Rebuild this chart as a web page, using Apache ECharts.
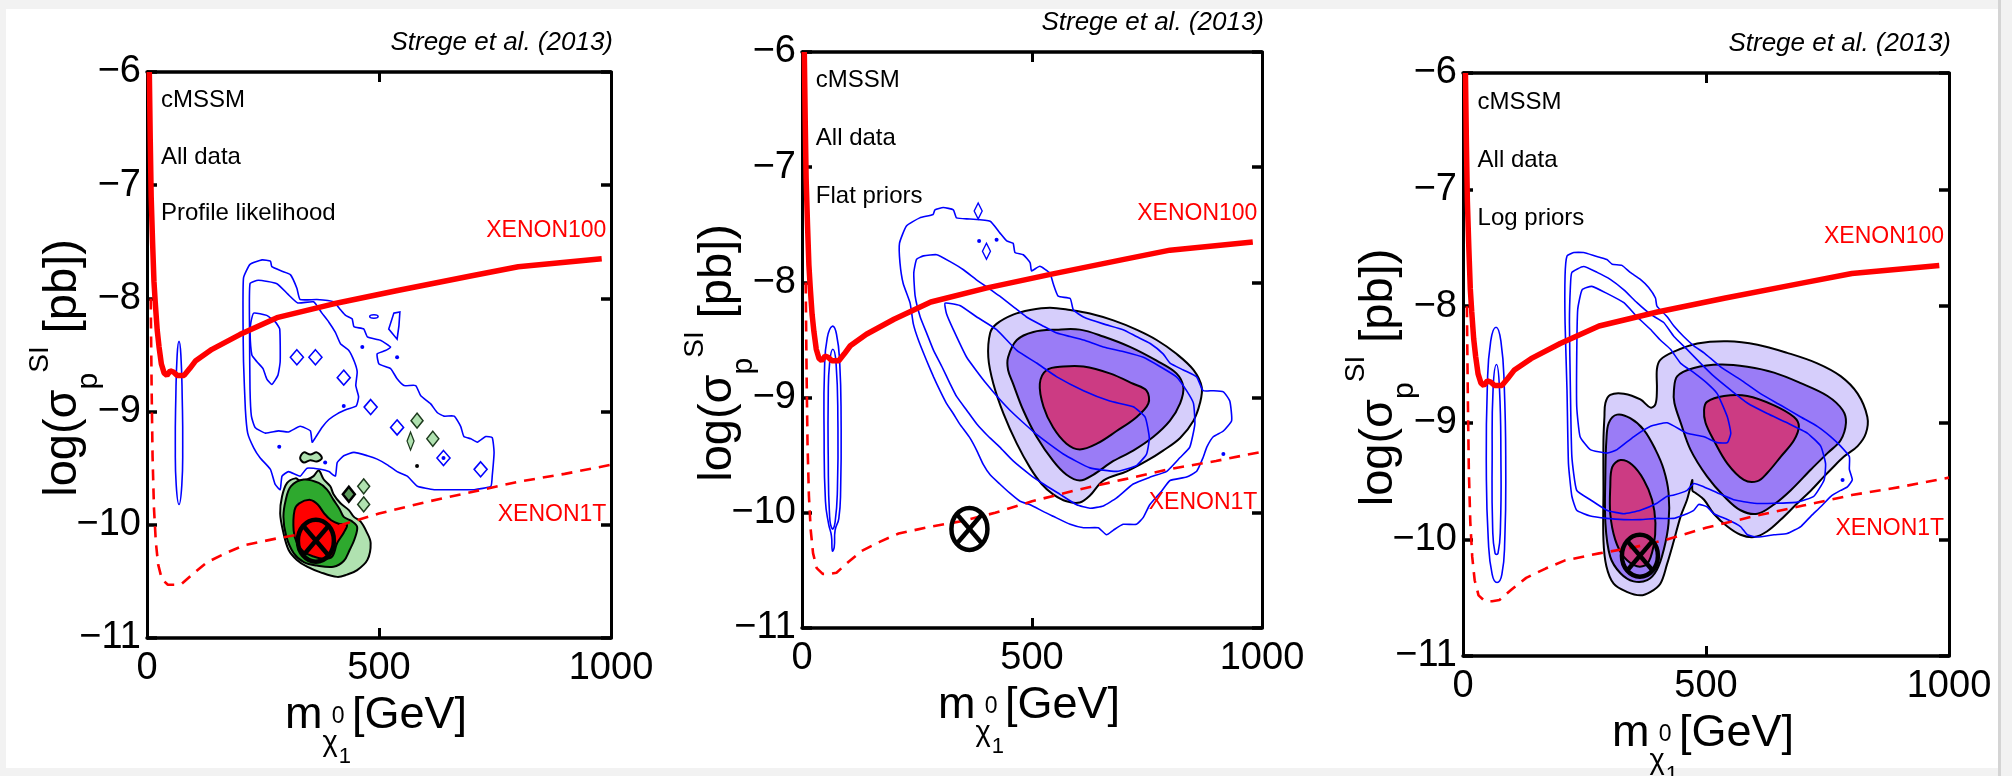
<!DOCTYPE html>
<html>
<head>
<meta charset="utf-8">
<script src="https://cdn.jsdelivr.net/npm/echarts@6/dist/echarts.min.js"></script>
<style>
  html, body { margin: 0; padding: 0; background: #f2f2f2; overflow: hidden; }
  #chart { width: 2012px; height: 776px; }
</style>
</head>
<body>
<div id="chart"></div>
<script>
// ---------------- values (GeV, log10 pb) ----------------
const panelCaptions = ['Profile likelihood', 'Flat priors', 'Log priors'];
const infoLines = ['cMSSM', 'All data'];
const creditText = 'Strege et al. (2013)';
const limitNames = ['XENON100', 'XENON1T'];

// direct-detection limits, shared by all three panels
const xenon100Limit = [[5,-6.0],[7,-6.6],[9,-7.1],[12,-7.5],[15,-7.85],[18,-8.05],[22,-8.28],[26,-8.43],[31,-8.58],[37,-8.66],[43,-8.68],[50,-8.64],[57,-8.65],[65,-8.68],[80,-8.68],[92,-8.62],[105,-8.55],[140,-8.45],[200,-8.32],[280,-8.17],[400,-8.05],[540,-7.93],[700,-7.8],[800,-7.72],[980,-7.65]];
const xenon1tReach = [[8,-8.0],[10,-8.8],[12,-9.4],[15,-9.85],[19,-10.15],[24,-10.35],[32,-10.48],[45,-10.53],[60,-10.53],[75,-10.52],[100,-10.43],[130,-10.33],[170,-10.25],[210,-10.18],[280,-10.12],[350,-10.07],[420,-10.0],[500,-9.9],[600,-9.8],[700,-9.71],[800,-9.62],[900,-9.55],[1000,-9.47]];
const bestFit = [[364, -10.14]];

// ---- panel 1: profile likelihood ----
const p1BlueOuter = [[208,-7.82],[222,-7.70],[248,-7.66],[266,-7.67],[269,-7.72],[291,-7.76],[309,-7.79],[323,-7.91],[330,-8.01],[366,-8.01],[402,-8.03],[417,-8.10],[428,-8.15],[442,-8.18],[446,-8.25],[467,-8.27],[475,-8.34],[503,-8.37],[525,-8.43],[514,-8.46],[496,-8.49],[500,-8.58],[525,-8.62],[539,-8.71],[554,-8.77],[579,-8.77],[590,-8.86],[611,-8.93],[626,-9.01],[640,-9.04],[662,-9.04],[676,-9.13],[683,-9.22],[698,-9.24],[712,-9.27],[730,-9.22],[744,-9.23],[748,-9.36],[744,-9.57],[741,-9.66],[705,-9.69],[662,-9.69],[619,-9.69],[583,-9.66],[561,-9.57],[539,-9.53],[518,-9.47],[496,-9.42],[475,-9.39],[446,-9.36],[424,-9.39],[410,-9.45],[406,-9.57],[392,-9.53],[374,-9.51],[345,-9.50],[330,-9.57],[305,-9.53],[291,-9.57],[287,-9.69],[276,-9.64],[266,-9.51],[244,-9.41],[230,-9.32],[217,-9.19],[212,-8.98],[208,-8.56],[207,-8.21]];
const p1BlueInner = [[222,-7.87],[240,-7.84],[280,-7.87],[303,-7.96],[325,-8.04],[359,-8.03],[377,-8.13],[392,-8.21],[406,-8.30],[417,-8.40],[435,-8.46],[447,-8.56],[453,-8.65],[450,-8.77],[456,-8.87],[451,-8.95],[431,-8.98],[410,-9.02],[392,-9.07],[377,-9.14],[363,-9.23],[356,-9.27],[352,-9.17],[330,-9.13],[305,-9.18],[284,-9.17],[255,-9.19],[233,-9.14],[225,-9.04],[222,-8.80],[221,-8.27]];
const p1BlueLobe = [[224,-8.21],[230,-8.13],[258,-8.15],[277,-8.21],[286,-8.27],[287,-8.56],[282,-8.68],[269,-8.76],[258,-8.71],[250,-8.62],[237,-8.56],[226,-8.50],[222,-8.30]];
const p1BlueStrip = [[69,-8.38],[73,-8.5],[76,-8.9],[77,-9.3],[75,-9.65],[69,-9.82],[63,-9.65],[61,-9.3],[62,-8.9],[65,-8.5]];
const p1BlueTriangle = [[532,-8.13],[545,-8.12],[543,-8.24],[539,-8.36],[521,-8.27]];
const p1BlueSpeck = [[480,-8.16],[489,-8.145],[498,-8.16],[489,-8.175]];
const p1BlueDiamonds = [[323,-8.52],[363,-8.52],[424,-8.70],[482,-8.96],[539,-9.14],[639,-9.41],[719,-9.51]];
const p1BlueDots = [[464,-8.43],[539,-8.52],[424,-8.95],[285,-9.31],[639,-9.41],[384,-9.45]];
const p1GreenOuter = [[302,-9.63],[291,-9.75],[287,-9.90],[294,-10.07],[305,-10.22],[323,-10.31],[345,-10.37],[374,-10.42],[410,-10.46],[431,-10.44],[453,-10.40],[475,-10.31],[482,-10.16],[473,-10.06],[460,-9.97],[446,-9.93],[435,-9.87],[417,-9.81],[402,-9.73],[395,-9.66],[381,-9.60],[370,-9.52],[359,-9.57],[345,-9.60],[330,-9.61],[320,-9.59]];
const p1GreenInner = [[310,-9.66],[299,-9.78],[294,-9.93],[300,-10.10],[316,-10.25],[338,-10.33],[366,-10.36],[402,-10.37],[424,-10.32],[437,-10.22],[447,-10.13],[453,-10.02],[442,-9.97],[424,-9.93],[415,-9.86],[402,-9.78],[388,-9.69],[370,-9.63],[338,-9.60]];
const p1RedCore = [[318,-9.87],[328,-9.81],[352,-9.78],[368,-9.82],[382,-9.90],[397,-9.96],[413,-9.99],[431,-10.00],[424,-10.07],[410,-10.16],[399,-10.28],[381,-10.30],[359,-10.28],[338,-10.24],[323,-10.16],[316,-10.05]];
const p1GreenIsle = [[330,-9.41],[338,-9.36],[352,-9.38],[366,-9.36],[377,-9.41],[366,-9.44],[352,-9.43],[338,-9.45]];
const p1GreenDiamonds = [[582,-9.08],[616,-9.24],[467,-9.66],[467,-9.82]];
const p1DarkDiamonds = [[435,-9.73]];
const p1GreenSliver = [[568,-9.26]];
const p1BlackDots = [[582,-9.48]];

// ---- panel 2: flat priors ----
const p2BlueOuter = [[289,-7.37],[307,-7.35],[329,-7.37],[336,-7.44],[365,-7.45],[409,-7.47],[430,-7.57],[445,-7.64],[459,-7.66],[463,-7.74],[481,-7.76],[496,-7.83],[499,-7.90],[517,-7.86],[539,-7.92],[546,-8.01],[557,-8.12],[583,-8.14],[590,-8.24],[612,-8.30],[655,-8.36],[698,-8.41],[727,-8.47],[757,-8.53],[785,-8.62],[800,-8.70],[829,-8.76],[858,-8.82],[872,-8.94],[894,-8.94],[916,-8.95],[930,-9.03],[934,-9.20],[916,-9.29],[894,-9.34],[880,-9.43],[872,-9.52],[858,-9.64],[836,-9.69],[800,-9.72],[782,-9.81],[756,-9.93],[742,-10.04],[727,-10.10],[698,-10.10],[677,-10.15],[662,-10.19],[644,-10.13],[612,-10.13],[583,-10.10],[546,-10.03],[525,-9.99],[496,-9.93],[474,-9.90],[452,-9.83],[430,-9.75],[409,-9.67],[394,-9.58],[380,-9.46],[365,-9.35],[343,-9.23],[329,-9.14],[314,-9.05],[300,-8.94],[286,-8.82],[271,-8.68],[253,-8.50],[242,-8.36],[235,-8.18],[220,-8.01],[213,-7.83],[212,-7.66],[227,-7.51],[256,-7.44],[285,-7.41]];
const p2BlueMiddle = [[249,-7.80],[264,-7.77],[293,-7.76],[322,-7.82],[351,-7.89],[380,-7.98],[409,-8.06],[430,-8.12],[459,-8.21],[488,-8.30],[525,-8.38],[554,-8.44],[583,-8.47],[612,-8.50],[655,-8.56],[698,-8.60],[742,-8.65],[778,-8.73],[814,-8.82],[836,-8.94],[851,-9.05],[854,-9.23],[843,-9.43],[822,-9.52],[793,-9.64],[757,-9.69],[720,-9.75],[684,-9.87],[655,-9.94],[626,-9.96],[597,-9.93],[561,-9.84],[525,-9.75],[496,-9.67],[459,-9.55],[430,-9.43],[401,-9.32],[380,-9.23],[358,-9.11],[336,-8.99],[322,-8.88],[304,-8.73],[286,-8.59],[271,-8.44],[257,-8.30],[246,-8.12],[243,-7.92]];
const p2BlueInner = [[311,-8.18],[343,-8.20],[380,-8.30],[423,-8.41],[467,-8.59],[510,-8.70],[554,-8.82],[612,-8.94],[669,-9.03],[720,-9.08],[746,-9.17],[755,-9.35],[749,-9.49],[727,-9.59],[684,-9.64],[626,-9.61],[568,-9.49],[510,-9.32],[452,-9.11],[401,-8.88],[358,-8.65],[329,-8.41],[314,-8.27]];
const p2StripOuter = [[66,-8.38],[75,-8.45],[82,-8.7],[85,-9.2],[84,-9.8],[80,-10.05],[72,-10.15],[70,-10.3],[66,-10.33],[64,-10.2],[58,-10.1],[51,-9.9],[48,-9.3],[49,-8.75],[55,-8.48]];
const p2StripInner = [[67,-8.58],[74,-8.7],[78,-9.2],[77,-9.8],[72,-10.08],[66,-10.14],[60,-10.03],[57,-9.5],[57,-9.0],[60,-8.7]];
const p2BlueSpecks = [[383,-7.38],[401,-7.73]];
const p2BlueDots = [[385,-7.64],[423,-7.63],[916,-9.49]];
const p2Purple2 = [[409,-8.44],[423,-8.36],[459,-8.28],[496,-8.24],[539,-8.22],[583,-8.24],[626,-8.27],[677,-8.33],[727,-8.41],[771,-8.50],[814,-8.62],[851,-8.76],[869,-8.91],[865,-9.05],[851,-9.20],[822,-9.35],[785,-9.46],[749,-9.55],[706,-9.64],[655,-9.72],[626,-9.85],[604,-9.91],[575,-9.90],[546,-9.84],[521,-9.75],[496,-9.61],[467,-9.40],[438,-9.14],[416,-8.88],[405,-8.65]];
const p2Purple1 = [[448,-8.65],[467,-8.50],[503,-8.43],[554,-8.41],[604,-8.41],[655,-8.47],[713,-8.56],[771,-8.68],[814,-8.79],[829,-8.91],[822,-9.05],[800,-9.20],[764,-9.34],[720,-9.46],[677,-9.55],[633,-9.67],[604,-9.72],[575,-9.67],[546,-9.55],[510,-9.34],[481,-9.11],[459,-8.88],[448,-8.76]];
const p2Core = [[517,-8.88],[532,-8.76],[568,-8.73],[612,-8.73],[669,-8.79],[720,-8.88],[749,-8.94],[753,-9.05],[727,-9.17],[684,-9.29],[641,-9.40],[604,-9.45],[575,-9.40],[546,-9.26],[525,-9.08]];

// ---- panel 3: log priors ----
const p3BlueOuter = [[214,-7.57],[228,-7.54],[248,-7.54],[272,-7.57],[296,-7.60],[307,-7.64],[327,-7.65],[344,-7.71],[365,-7.77],[382,-7.84],[396,-7.93],[399,-8.00],[420,-8.09],[434,-8.17],[454,-8.26],[475,-8.34],[496,-8.40],[530,-8.52],[571,-8.63],[612,-8.75],[654,-8.85],[695,-8.95],[729,-9.03],[757,-9.12],[777,-9.20],[795,-9.29],[795,-9.40],[801,-9.49],[791,-9.55],[777,-9.58],[757,-9.63],[736,-9.72],[716,-9.80],[695,-9.89],[667,-9.95],[640,-9.96],[606,-9.98],[585,-9.96],[571,-9.89],[544,-9.83],[516,-9.78],[502,-9.72],[485,-9.70],[475,-9.75],[461,-9.78],[448,-9.80],[434,-9.82],[399,-9.82],[365,-9.83],[331,-9.83],[296,-9.82],[262,-9.80],[234,-9.75],[224,-9.63],[217,-9.35],[214,-8.72],[210,-8.14],[210,-7.74]];
const p3BlueMiddle = [[224,-7.71],[248,-7.66],[276,-7.71],[303,-7.77],[331,-7.86],[358,-7.97],[386,-8.07],[413,-8.14],[434,-8.26],[461,-8.37],[489,-8.49],[516,-8.60],[551,-8.72],[585,-8.83],[626,-8.92],[667,-9.00],[709,-9.09],[736,-9.20],[746,-9.35],[743,-9.49],[722,-9.63],[688,-9.68],[640,-9.69],[599,-9.69],[557,-9.66],[523,-9.60],[496,-9.55],[475,-9.52],[461,-9.58],[434,-9.62],[420,-9.63],[399,-9.69],[365,-9.75],[331,-9.78],[296,-9.75],[262,-9.66],[234,-9.58],[224,-9.29],[221,-8.72],[219,-8.14],[221,-7.83]];
const p3BlueInner = [[245,-7.86],[265,-7.83],[296,-7.89],[331,-7.97],[358,-8.09],[386,-8.20],[406,-8.29],[427,-8.37],[448,-8.49],[475,-8.57],[502,-8.66],[523,-8.75],[544,-8.95],[551,-9.09],[544,-9.17],[523,-9.17],[496,-9.12],[461,-9.09],[420,-9.00],[386,-9.03],[351,-9.12],[317,-9.23],[296,-9.26],[262,-9.23],[241,-9.12],[234,-8.86],[234,-8.43],[236,-8.03]];
const p3StripOuter = [[68,-8.18],[78,-8.3],[85,-8.7],[88,-9.4],[86,-10.0],[80,-10.3],[70,-10.37],[60,-10.3],[52,-10.0],[48,-9.4],[50,-8.7],[57,-8.3]];
const p3StripInner = [[69,-8.5],[75,-8.7],[78,-9.3],[77,-9.9],[72,-10.12],[66,-10.12],[61,-9.9],[60,-9.3],[62,-8.7]];
const p3BlueDots = [[781,-9.49]];
const p3Purple2 = [[293,-8.83],[303,-8.76],[331,-8.75],[365,-8.80],[386,-8.87],[396,-8.84],[399,-8.72],[399,-8.54],[406,-8.46],[434,-8.39],[482,-8.32],[544,-8.30],[606,-8.33],[667,-8.40],[729,-8.49],[777,-8.60],[812,-8.75],[832,-8.95],[829,-9.09],[812,-9.20],[784,-9.29],[757,-9.40],[743,-9.46],[716,-9.58],[688,-9.69],[654,-9.83],[626,-9.93],[599,-9.98],[571,-9.96],[544,-9.89],[516,-9.78],[496,-9.66],[478,-9.60],[472,-9.58],[472,-9.49],[468,-9.55],[461,-9.66],[448,-9.80],[434,-10.01],[420,-10.21],[406,-10.38],[386,-10.45],[365,-10.48],[337,-10.45],[310,-10.38],[295,-10.23],[289,-10.01],[289,-9.58],[289,-9.15],[291,-8.95]];
const p3Purple1Left = [[300,-9.00],[317,-8.93],[344,-8.96],[372,-9.06],[396,-9.23],[413,-9.40],[423,-9.60],[423,-9.86],[413,-10.09],[399,-10.26],[379,-10.35],[351,-10.36],[324,-10.29],[303,-10.15],[293,-9.86],[293,-9.43],[295,-9.15]];
const p3Purple1Right = [[434,-8.72],[441,-8.60],[475,-8.53],[530,-8.50],[585,-8.52],[640,-8.57],[695,-8.66],[750,-8.77],[781,-8.89],[788,-9.00],[777,-9.15],[750,-9.26],[716,-9.40],[674,-9.58],[640,-9.70],[606,-9.78],[571,-9.75],[537,-9.63],[502,-9.46],[468,-9.23],[448,-9.00],[435,-8.83]];
const p3CoreLeft = [[307,-9.38],[324,-9.32],[348,-9.36],[372,-9.49],[389,-9.66],[396,-9.86],[392,-10.06],[379,-10.21],[358,-10.23],[331,-10.15],[313,-10.00],[303,-9.78],[303,-9.55]];
const p3CoreRight = [[496,-8.89],[502,-8.82],[537,-8.77],[585,-8.77],[640,-8.85],[681,-8.95],[691,-9.03],[681,-9.15],[654,-9.29],[626,-9.43],[606,-9.50],[578,-9.49],[544,-9.35],[516,-9.15],[499,-9.00]];

// ---------------- styling ----------------
const FONT = "'Liberation Sans',Arial,Helvetica,sans-serif";
const BLUE = '#0000ff';
const RED = '#ff0000';
const GREEN_LIGHT = '#b0e2b0';
const GREEN_MID = '#2ea92e';
const PURPLE_LIGHT = '#d6cefb';
const PURPLE_MID = '#9a7cf6';
const MAGENTA = '#cc3b83';

const GRIDS = [
  { left: 147, top: 72, width: 464, height: 566 },
  { left: 802, top: 52, width: 460, height: 576 },
  { left: 1463, top: 73, width: 486, height: 583 }
];

function minusFmt(v) { return (v < 0 ? '\u2212' : '') + Math.abs(v); }
function plainFmt(v) { return String(v); }

// closed contour drawn through the grid's own axes
function contour(g, pts, opts) {
  return {
    type: 'custom', xAxisIndex: 2 * g, yAxisIndex: 2 * g,
    z: opts.z, silent: true, clip: true, data: pts,
    renderItem: function (params, api) {
      if (params.dataIndex !== 0) return null;
      return {
        type: 'polygon',
        shape: { points: pts.map(function (p) { return api.coord(p); }), smooth: opts.smooth == null ? 0.35 : opts.smooth },
        style: { fill: opts.fill || 'none', stroke: opts.stroke || null, lineWidth: opts.lineWidth || 0 }
      };
    }
  };
}
function blueLine(g, pts, smooth) { return contour(g, pts, { stroke: BLUE, lineWidth: 1.6, z: 5, smooth: smooth == null ? 0.15 : smooth }); }
function filled(g, pts, fill, z) { return contour(g, pts, { fill: fill, stroke: '#000', lineWidth: 2, z: z, smooth: 0.35 }); }

function markers(g, pts, symbol, size, fill, stroke, bw, z) {
  return {
    type: 'scatter', xAxisIndex: 2 * g, yAxisIndex: 2 * g, data: pts, silent: true,
    symbol: symbol, symbolSize: size, z: z,
    itemStyle: { color: fill, borderColor: stroke, borderWidth: bw, opacity: 1 }
  };
}

function limitLines(g) {
  return [
    { type: 'line', xAxisIndex: 2 * g, yAxisIndex: 2 * g, data: xenon1tReach, showSymbol: false, silent: true, z: 6,
      lineStyle: { color: RED, width: 2.6, type: [11, 8] } },
    { type: 'line', xAxisIndex: 2 * g, yAxisIndex: 2 * g, data: xenon100Limit, showSymbol: false, silent: true, z: 6,
      lineStyle: { color: RED, width: 5.5 } }
  ];
}

function bestFitMark(g) {
  return {
    type: 'custom', xAxisIndex: 2 * g, yAxisIndex: 2 * g, z: 10, silent: true, data: bestFit,
    renderItem: function (params, api) {
      const c = api.coord([api.value(0), api.value(1)]);
      const rx = 18, ry = 21, k = Math.SQRT1_2;
      const st = { stroke: '#000', lineWidth: 4.5, fill: 'none' };
      return { type: 'group', children: [
        { type: 'ellipse', shape: { cx: c[0], cy: c[1], rx: rx, ry: ry }, style: st },
        { type: 'line', shape: { x1: c[0] - rx * k, y1: c[1] - ry * k, x2: c[0] + rx * k, y2: c[1] + ry * k }, style: st },
        { type: 'line', shape: { x1: c[0] - rx * k, y1: c[1] + ry * k, x2: c[0] + rx * k, y2: c[1] - ry * k }, style: st }
      ] };
    }
  };
}

// ---------------- axes ----------------
const xAxes = [], yAxes = [];
GRIDS.forEach(function (gr, g) {
  const frameX = { show: true, onZero: false, lineStyle: { color: '#000', width: 3.5 } };
  const frameY = { show: true, onZero: false, lineStyle: { color: '#000', width: 3 } };
  const tickX = { show: true, inside: true, length: 10, lineStyle: { color: '#000', width: 3 } };
  const tickY = { show: true, inside: true, length: 10, lineStyle: { color: '#000', width: 3.5 } };
  xAxes.push({
    gridIndex: g, type: 'value', position: 'bottom', min: 0, max: 1000, interval: 500,
    axisLine: frameX, axisTick: tickX, splitLine: { show: false },
    axisLabel: { color: '#000', fontSize: 38, fontFamily: FONT, margin: 12, formatter: plainFmt },
    name: '{m|m}{chi|\u03c7}{zero|0}{one|1}{u|[GeV]}', nameLocation: 'middle', nameGap: 8,
    nameTextStyle: { color: '#000', fontFamily: FONT, rich: {
      m: { fontSize: 45, fontFamily: FONT, color: '#000' },
      u: { fontSize: 45, fontFamily: FONT, color: '#000', padding: [0, 6, 0, 1] },
      chi: { fontSize: 29, fontFamily: FONT, color: '#000', padding: [56, 0, 0, 0] },
      zero: { fontSize: 23, fontFamily: FONT, color: '#000', padding: [2, 0, 0, 0], width: 1 },
      one: { fontSize: 22, fontFamily: FONT, color: '#000', padding: [84, 0, 0, 0] }
    } }
  });
  xAxes.push({
    gridIndex: g, type: 'value', position: 'top', min: 0, max: 1000, interval: 500,
    axisLine: frameX, axisTick: tickX, axisLabel: { show: false }, splitLine: { show: false }
  });
  yAxes.push({
    gridIndex: g, type: 'value', position: 'left', min: -11, max: -6, interval: 1,
    axisLine: frameY, axisTick: tickY, splitLine: { show: false },
    axisLabel: { color: '#000', fontSize: 38, fontFamily: FONT, margin: 6, formatter: minusFmt },
    name: '{a|log(\u03c3}{sub|p}{sup|SI}{e| [pb])}', nameLocation: 'middle', nameGap: 43, nameMoveOverlap: false,
    nameTextStyle: { color: '#000', fontFamily: FONT, rich: {
      a: { fontSize: 47, fontFamily: FONT, color: '#000' },
      e: { fontSize: 47, fontFamily: FONT, color: '#000', padding: [0, 26, 0, 0] },
      sub: { fontSize: 30, fontFamily: FONT, color: '#000', padding: [52, 0, 0, 0] },
      sup: { fontSize: 28, fontFamily: FONT, color: '#000', padding: [0, 0, 46, 0] }
    } }
  });
  yAxes.push({
    gridIndex: g, type: 'value', position: 'right', min: -11, max: -6, interval: 1,
    axisLine: frameY, axisTick: tickY, axisLabel: { show: false }, splitLine: { show: false }
  });
});

// ---------------- series ----------------
const series = [];
// panel 1
series.push(blueLine(0, p1BlueOuter), blueLine(0, p1BlueInner), blueLine(0, p1BlueLobe), blueLine(0, p1BlueStrip, 0.5),
  blueLine(0, p1BlueTriangle, 0), blueLine(0, p1BlueSpeck, 0.5));
series.push(markers(0, p1BlueDiamonds, 'diamond', [13, 15], 'rgba(0,0,0,0)', BLUE, 1.6, 5));
series.push(markers(0, p1BlueDots, 'circle', 4, BLUE, BLUE, 0, 5));
series.push(filled(0, p1GreenOuter, GREEN_LIGHT, 2), filled(0, p1GreenInner, GREEN_MID, 3), filled(0, p1RedCore, RED, 4),
  filled(0, p1GreenIsle, GREEN_LIGHT, 2));
series.push(markers(0, p1GreenDiamonds, 'diamond', [12, 15], GREEN_LIGHT, '#1d3a1d', 1.5, 4));
series.push(markers(0, p1DarkDiamonds, 'diamond', [12, 15], '#5f9e5f', '#000', 2.5, 4));
series.push(markers(0, p1GreenSliver, 'diamond', [7, 18], GREEN_LIGHT, '#1d3a1d', 1.5, 4));
series.push(markers(0, p1BlackDots, 'circle', 4, '#000', '#000', 0, 4));
// panel 2
series.push(filled(1, p2Purple2, PURPLE_LIGHT, 2), filled(1, p2Purple1, PURPLE_MID, 3), filled(1, p2Core, MAGENTA, 4));
series.push(blueLine(1, p2BlueOuter), blueLine(1, p2BlueMiddle), blueLine(1, p2BlueInner),
  blueLine(1, p2StripOuter, 0.5), blueLine(1, p2StripInner, 0.5));
series.push(markers(1, p2BlueSpecks, 'diamond', [8, 16], 'rgba(0,0,0,0)', BLUE, 1.5, 5));
series.push(markers(1, p2BlueDots, 'circle', 4, BLUE, BLUE, 0, 5));
// panel 3
series.push(filled(2, p3Purple2, PURPLE_LIGHT, 2), filled(2, p3Purple1Left, PURPLE_MID, 3), filled(2, p3Purple1Right, PURPLE_MID, 3),
  filled(2, p3CoreLeft, MAGENTA, 4), filled(2, p3CoreRight, MAGENTA, 4));
series.push(blueLine(2, p3BlueOuter), blueLine(2, p3BlueMiddle), blueLine(2, p3BlueInner),
  blueLine(2, p3StripOuter, 0.5), blueLine(2, p3StripInner, 0.5));
series.push(markers(2, p3BlueDots, 'circle', 4, BLUE, BLUE, 0, 5));
// limits and best fit on every panel
[0, 1, 2].forEach(function (g) { series.push.apply(series, limitLines(g)); series.push(bestFitMark(g)); });

// ---------------- text inside and above each frame ----------------
function textEl(text, x, y, size, color, align, italic) {
  return { type: 'text', x: x, y: y, z: 20, silent: true, style: {
    text: text, fill: color, fontSize: size, fontFamily: FONT, fontStyle: italic ? 'italic' : 'normal',
    align: align, textAlign: align, verticalAlign: 'middle', textVerticalAlign: 'middle' } };
}
const graphics = [
  { type: 'rect', z: -100, silent: true, shape: { x: 6, y: 9, width: 1992, height: 759 }, style: { fill: '#ffffff' } },
  { type: 'rect', z: -99, silent: true, shape: { x: 1998, y: 0, width: 3, height: 776 }, style: { fill: '#d4d4d4' } }
];
GRIDS.forEach(function (gr, g) {
  const L = gr.left, T = gr.top, W = gr.width, H = gr.height;
  graphics.push(textEl(creditText, L + W + 2, T - 29, 26, '#000', 'right', true));
  graphics.push(textEl(infoLines[0], L + 0.03 * W, T + 0.05 * H, 24, '#000', 'left'));
  graphics.push(textEl(infoLines[1], L + 0.03 * W, T + 0.15 * H, 24, '#000', 'left'));
  graphics.push(textEl(panelCaptions[g], L + 0.03 * W, T + 0.25 * H, 24, '#000', 'left'));
  graphics.push(textEl(limitNames[0], L + 0.99 * W, T + 0.28 * H, 23, RED, 'right'));
  graphics.push(textEl(limitNames[1], L + 0.99 * W, T + 0.782 * H, 23, RED, 'right'));
});

const chart = echarts.init(document.getElementById('chart'), null, { renderer: 'canvas', width: 2012, height: 776 });
chart.setOption({
  animation: false,
  backgroundColor: '#f2f2f2',
  grid: GRIDS.map(function (gr) { return { left: gr.left, top: gr.top, width: gr.width, height: gr.height, show: false, containLabel: false, outerBoundsMode: 'none' }; }),
  xAxis: xAxes,
  yAxis: yAxes,
  series: series,
  graphic: { elements: graphics }
});
</script>
</body>
</html>
